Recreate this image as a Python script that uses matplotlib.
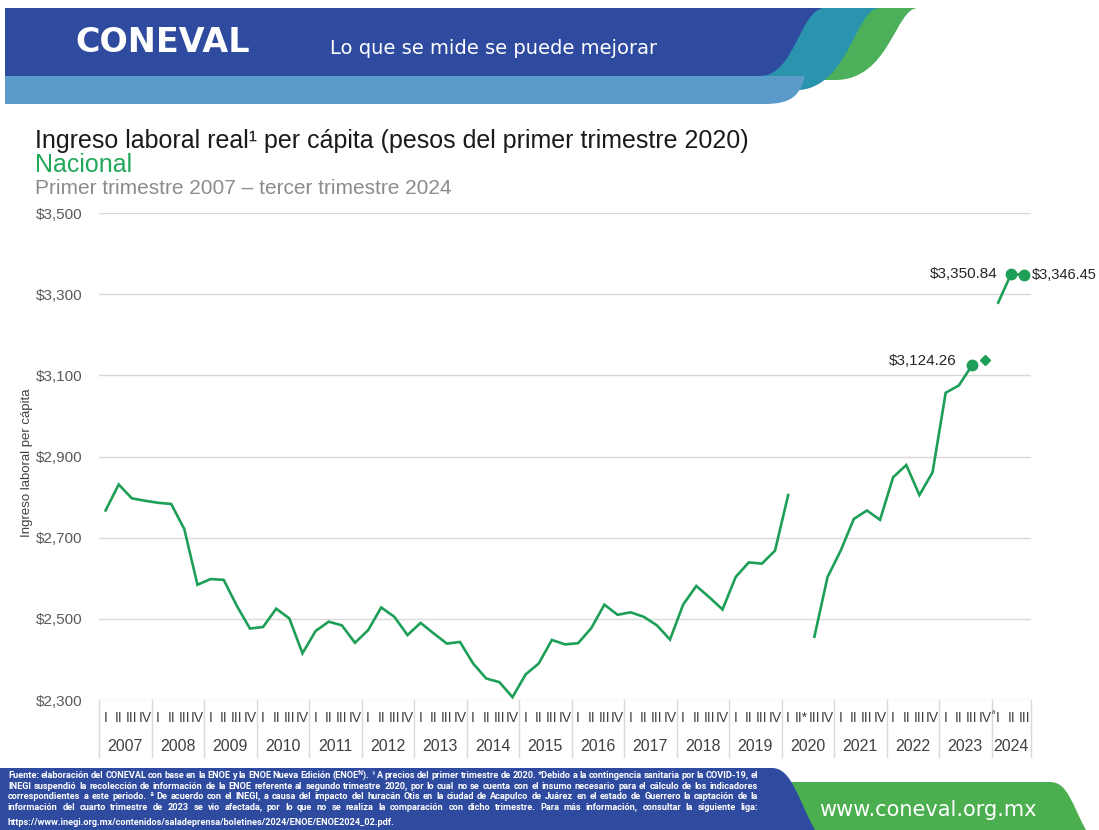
import matplotlib
matplotlib.use("Agg")
import matplotlib.pyplot as plt
import numpy as np
from matplotlib.path import Path
from matplotlib.patches import PathPatch

# ---------------- data ----------------
years = [str(y) for y in range(2007, 2025)]
quarter_labels = (["I", "II", "III", "IV"] * 13 +          # 2007-2019
                  ["I", "II*", "III", "IV"] +              # 2020
                  ["I", "II", "III", "IV"] * 2 +           # 2021-2022
                  ["I", "II", "III", "IV"] +               # 2023 (IV con nota ª)
                  ["I", "II", "III"])                      # 2024
note_quarter_idx = 67          # 2023-IV lleva superíndice "ª"
ingreso = [
    2767, 2831, 2797, 2791,   # 2007
    2786, 2783, 2721, 2584,   # 2008
    2598, 2596, 2532, 2476,   # 2009
    2480, 2525, 2501, 2415,   # 2010
    2470, 2493, 2484, 2441,   # 2011
    2472, 2528, 2505, 2460,   # 2012
    2490, 2464, 2439, 2443,   # 2013
    2390, 2353, 2344, 2307,   # 2014
    2363, 2390, 2448, 2437,   # 2015
    2440, 2477, 2535, 2510,   # 2016
    2516, 2505, 2484, 2449,   # 2017
    2535, 2581, 2553, 2523,   # 2018
    2603, 2639, 2636, 2668,   # 2019
    2805, np.nan, 2456, 2603, # 2020 (II sin dato)
    2668, 2746, 2767, 2744,   # 2021
    2849, 2879, 2805, 2861,   # 2022
    3057, 3075, 3124.26, np.nan,  # 2023 (IV mostrado aparte)
    3279, 3350.84, 3346.45,   # 2024
]
ingreso_2023_iv = 3139        # trimestre afectado (rombo)
idx_2023_iv = 67
labeled_idx = [66, 69, 70]
labeled_txt = ["$3,124.26", "$3,350.84", "$3,346.45"]

GREEN = "#1E9F58"
DARK_BLUE = "#2F4B9F"

# ---------------- figure ----------------
fig = plt.figure(figsize=(10.99, 8.30), dpi=100)
bg = fig.add_axes([0, 0, 1, 1], zorder=0)
bg.set_xlim(0, 1099)
bg.set_ylim(830, 0)
bg.axis("off")


def bez_patch(verts_codes, color, z):
    verts = [v for v, c in verts_codes]
    codes = [c for v, c in verts_codes]
    p = PathPatch(Path(verts, codes), facecolor=color, edgecolor="none", zorder=z)
    bg.add_patch(p)


M, L, C, Z = Path.MOVETO, Path.LINETO, Path.CURVE4, Path.CLOSEPOLY
# header: green swoosh
bez_patch([((780, 8), M), ((918, 8), L), ((895, 8), C), ((890, 80), C), ((835, 80), C),
           ((780, 80), L), ((780, 8), Z)], "#4CAF5A", 1)
# teal swoosh
bez_patch([((700, 8), M), ((880, 8), L), ((855, 8), C), ((850, 85), C), ((800, 90), C),
           ((700, 90), L), ((700, 8), Z)], "#2A94AE", 2)
# dark blue band
bez_patch([((5, 8), M), ((825, 8), L), ((800, 8), C), ((795, 76), C), ((760, 76), C),
           ((5, 76), L), ((5, 8), Z)], DARK_BLUE, 3)
# light blue band
bez_patch([((5, 76), M), ((805, 76), L), ((800, 95), C), ((792, 104), C), ((765, 104), C),
           ((5, 104), L), ((5, 76), Z)], "#5A9BCA", 3)

# footer shapes
bez_patch([((770, 782), M), ((1050, 782), L), ((1068, 782), C), ((1072, 805), C), ((1086, 830), C),
           ((770, 830), L), ((770, 782), Z)], "#4BAE4F", 1)
bez_patch([((0, 768), M), ((772, 768), L), ((792, 768), C), ((798, 800), C), ((815, 830), C),
           ((0, 830), L), ((0, 768), Z)], DARK_BLUE, 2)

bg.text(75, 43, "CONEVAL", fontsize=24, fontweight="bold", family="DejaVu Sans",
        color="white", va="center", ha="left", zorder=5)
bg.text(330, 48, "Lo que se mide se puede mejorar", fontsize=14, family="DejaVu Sans",
        color="white", va="center", ha="left", zorder=5)
bg.text(928, 810, "www.coneval.org.mx", fontsize=15, family="DejaVu Sans",
        color="white", va="center", ha="center", zorder=5)

# titles
bg.text(35, 148, "Ingreso laboral real¹ per cápita (pesos del primer trimestre 2020)",
        fontsize=18, family="Liberation Sans", color="#1A1A1A", va="baseline", zorder=5)
bg.text(35, 172, "Nacional", fontsize=18, family="Liberation Sans", color="#22A85A",
        va="baseline", zorder=5)
bg.text(35, 194, "Primer trimestre 2007 – tercer trimestre 2024", fontsize=15,
        family="Liberation Sans", color="#8C8C8C", va="baseline", zorder=5)
bg.text(27, 463, "Ingreso laboral per cápita", fontsize=9.5, family="Liberation Sans",
        color="#404040", rotation=90, ha="center", va="center", zorder=5)

# ---------------- main axes ----------------
ax = fig.add_axes([99 / 1099, 1 - 700 / 830, (1031 - 99) / 1099, 487 / 830], zorder=2)
ax.set_facecolor("none")
n = len(ingreso)
x = np.arange(n) + 0.5
ax.set_xlim(0, n)
ax.set_ylim(2300, 3500)
yt = list(range(2300, 3501, 200))
ax.set_yticks(yt)
ax.set_yticklabels([f"${v:,}" for v in yt], family="Liberation Sans")
ax.tick_params(axis="y", length=0, pad=12, labelsize=11, labelcolor="#595959")
ax.set_xticks([])
for s in ax.spines.values():
    s.set_visible(False)
ax.yaxis.grid(True, color="#D9D9D9", lw=1)
ax.set_axisbelow(True)

y = np.array(ingreso, dtype=float)
ax.plot(x, y, color=GREEN, lw=1.9, solid_joinstyle="miter", zorder=3)
ax.plot([x[idx_2023_iv]], [ingreso_2023_iv], marker="D", ms=5.5, color=GREEN, ls="none", zorder=4)
ax.plot(x[labeled_idx], y[labeled_idx], marker="o", ms=7.5, color=GREEN, ls="none", zorder=4)

offsets = [(-15, 4, "right", 11), (-14, 0, "right", 11), (7, 0, "left", 10.5)]
for i, t, (dx, dy, ha, fsz) in zip(labeled_idx, labeled_txt, offsets):
    ax.annotate(t, (x[i], y[i]), xytext=(dx, dy), textcoords="offset pixels",
                ha=ha, va="center", fontsize=fsz, color="#262626", family="Liberation Sans",
                annotation_clip=False)

# category axis (quarters + years)
xt = ax.get_xaxis_transform()
for k, (xi, ql) in enumerate(zip(x, quarter_labels)):
    ax.text(xi, -18 / 487, ql, transform=xt, ha="center", va="center", fontsize=10,
            color="#404040", family="Liberation Sans")
    if k == note_quarter_idx:
        ax.annotate("ª", (xi, 0), xycoords=xt, xytext=(7, -15), textcoords="offset pixels",
                    ha="left", va="center", fontsize=6.5, color="#404040",
                    family="Liberation Sans", annotation_clip=False)
bounds = list(range(0, n, 4)) + [n]
for b in bounds:
    ax.plot([b, b], [0, -57 / 487], transform=xt, color="#D9D9D9", lw=1, clip_on=False)
for k, yr in enumerate(years):
    lo, hi = bounds[k], bounds[k + 1]
    ax.text((lo + hi) / 2, -46 / 487, yr, transform=xt, ha="center", va="center",
            fontsize=11.5, color="#404040", family="Liberation Sans")

# ---------------- footer text (justified) ----------------
foot_lines = [
    "Fuente: elaboración del CONEVAL con base en la ENOE y la ENOE Nueva Edición (ENOEᴺ). ¹ A precios del primer trimestre de 2020. *Debido a la contingencia sanitaria por la COVID-19, el",
    "INEGI suspendió la recolección de información de la ENOE referente al segundo trimestre 2020, por lo cual no se cuenta con el insumo necesario para el cálculo de los indicadores",
    "correspondientes a este periodo. ª De acuerdo con el INEGI, a causa del impacto del huracán Otis en la ciudad de Acapulco de Juárez en el estado de Guerrero la captación de la",
    "información del cuarto trimestre de 2023 se vio afectada, por lo que no se realiza la comparación con dicho trimestre. Para más información, consultar la siguiente liga:",
    "https://www.inegi.org.mx/contenidos/saladeprensa/boletines/2024/ENOE/ENOE2024_02.pdf.",
]
foot_y = [775, 786, 796, 807, 822]
ffam = ["Roboto", "DejaVu Sans"]
fig.canvas.draw()
r = fig.canvas.get_renderer()
X0, X1 = 8, 758
fs = 6.6
for li, (line, yy) in enumerate(zip(foot_lines, foot_y)):
    if li == len(foot_lines) - 1:
        bg.text(X0, yy, line, fontsize=fs, family=ffam, fontweight="bold", color="white",
                va="center", zorder=5)
        continue
    words = line.split(" ")
    texts = [bg.text(0, yy, w, fontsize=fs, family=ffam, fontweight="bold", color="white",
                     va="center", zorder=5) for w in words]
    widths = [t.get_window_extent(r).width for t in texts]
    gap = (X1 - X0 - sum(widths)) / (len(words) - 1)
    if gap < 2.0:
        scale = (X1 - X0 - 2.0 * (len(words) - 1)) / sum(widths)
        for t in texts:
            t.set_fontsize(fs * scale)
        widths = [w * scale for w in widths]
        gap = (X1 - X0 - sum(widths)) / (len(words) - 1)
    xx = X0
    for t, w in zip(texts, widths):
        t.set_x(xx)
        xx += w + gap

fig.savefig("out.png", dpi=100)
